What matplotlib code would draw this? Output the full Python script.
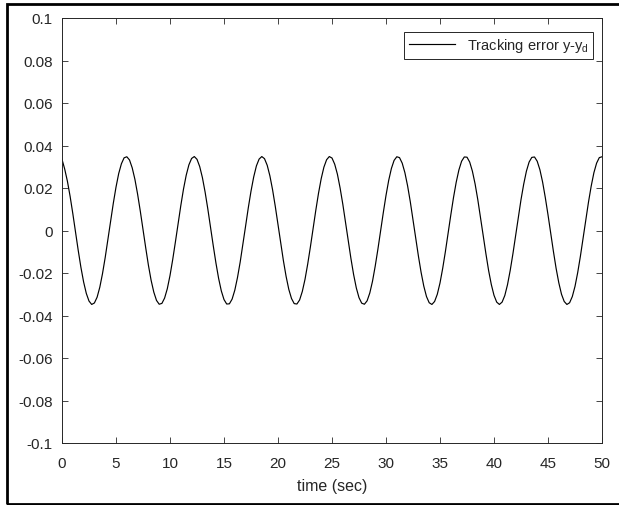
import numpy as np
import matplotlib
matplotlib.use('Agg')
import matplotlib.pyplot as plt
from matplotlib.patches import Rectangle

plt.rcParams['font.family'] = ['Liberation Sans', 'DejaVu Sans']
plt.rcParams['mathtext.fontset'] = 'custom'
plt.rcParams['mathtext.rm'] = 'Liberation Sans'
plt.rcParams['mathtext.it'] = 'Liberation Sans:italic'

t_step = 0.25
err = [
    0.0335, 0.0289, 0.0232, 0.0161, 0.0080, -0.0007, -0.0093, -0.0173, -0.0242, -0.0296,
    -0.0332, -0.0348, -0.0341, -0.0314, -0.0267, -0.0203, -0.0127, -0.0042, 0.0044, 0.0128,
    0.0204, 0.0268, 0.0314, 0.0342, 0.0347,
    0.0332, 0.0295, 0.0241, 0.0171, 0.0091, 0.0005, -0.0081, -0.0163, -0.0234, -0.0290,
    -0.0329, -0.0347, -0.0343, -0.0318, -0.0274, -0.0212, -0.0137, -0.0054, 0.0033, 0.0117,
    0.0195, 0.0260, 0.0309, 0.0339, 0.0348,
    0.0335, 0.0301, 0.0249, 0.0181, 0.0102, 0.0016, -0.0070, -0.0152, -0.0225, -0.0284,
    -0.0325, -0.0346, -0.0345, -0.0323, -0.0281, -0.0221, -0.0148, -0.0065, 0.0021, 0.0107,
    0.0185, 0.0252, 0.0304, 0.0336, 0.0348,
    0.0338, 0.0307, 0.0257, 0.0191, 0.0113, 0.0028, -0.0059, -0.0142, -0.0216, -0.0277,
    -0.0320, -0.0344, -0.0346, -0.0327, -0.0287, -0.0230, -0.0158, -0.0077, 0.0010, 0.0095,
    0.0175, 0.0244, 0.0298, 0.0333, 0.0348,
    0.0341, 0.0312, 0.0265, 0.0200, 0.0124, 0.0039, -0.0047, -0.0131, -0.0207, -0.0270,
    -0.0316, -0.0342, -0.0347, -0.0331, -0.0294, -0.0239, -0.0168, -0.0088, -0.0002, 0.0084,
    0.0165, 0.0236, 0.0292, 0.0330, 0.0347,
    0.0343, 0.0317, 0.0272, 0.0210, 0.0135, 0.0051, -0.0036, -0.0120, -0.0197, -0.0262,
    -0.0311, -0.0340, -0.0348, -0.0334, -0.0300, -0.0247, -0.0178, -0.0099, -0.0013, 0.0073,
    0.0155, 0.0227, 0.0285, 0.0326, 0.0346,
    0.0345, 0.0322, 0.0279, 0.0219, 0.0145, 0.0062, -0.0024, -0.0109, -0.0188, -0.0254,
    -0.0305, -0.0337, -0.0348, -0.0337, -0.0306, -0.0255, -0.0188, -0.0110, -0.0025, 0.0062,
    0.0145, 0.0218, 0.0279, 0.0322, 0.0344,
    0.0346, 0.0326, 0.0286, 0.0228, 0.0155, 0.0074, -0.0013, -0.0098, -0.0178, -0.0246,
    -0.0300, -0.0334, -0.0348, -0.0340, -0.0311, -0.0263, -0.0198, -0.0121, -0.0036, 0.0050,
    0.0134, 0.0209, 0.0272, 0.0317, 0.0343, 0.0347,
]
t = np.arange(len(err)) * t_step

x_ticks = [0, 5, 10, 15, 20, 25, 30, 35, 40, 45, 50]
y_ticks = [-0.1, -0.08, -0.06, -0.04, -0.02, 0, 0.02, 0.04, 0.06, 0.08, 0.1]
y_labels = ['-0.1', '-0.08', '-0.06', '-0.04', '-0.02', '0',
            '0.02', '0.04', '0.06', '0.08', '0.1']

axc = '#262626'

fig = plt.figure(figsize=(6.19, 5.06), dpi=100)
ax = fig.add_axes([62 / 619, 1 - 444 / 506, 540 / 619, 425 / 506])

ax.plot(t, err, color='black', lw=0.85, label=r'Tracking error y-y$_\mathrm{d}$')

ax.set_xlim(0, 50)
ax.set_ylim(-0.1, 0.1)
ax.set_xticks(x_ticks)
ax.set_yticks(y_ticks)
ax.set_yticklabels(y_labels)
ax.tick_params(direction='in', length=4.5, width=0.6, colors=axc,
               labelsize=11, top=True, right=True)
ax.tick_params(axis='x', pad=9)
ax.tick_params(axis='y', pad=6.5)
for s in ax.spines.values():
    s.set_color(axc)
    s.set_linewidth(0.7)
ax.set_xlabel('time (sec)', fontsize=11.5, color=axc, labelpad=6)

leg = ax.legend(loc='upper right', bbox_to_anchor=(1 - 9 / 540, 1 - 14 / 425),
                borderaxespad=0, fontsize=10.5, fancybox=False, framealpha=1,
                handlelength=3.2, handletextpad=0.8, borderpad=0.3)
leg.get_frame().set_edgecolor(axc)
leg.get_frame().set_linewidth(0.7)
for txt in leg.get_texts():
    txt.set_color(axc)

# black frame around the whole figure
fig.patches.append(Rectangle((7 / 619, 1.5 / 506), 1.0, 1 - 6 / 506,
                             transform=fig.transFigure, fill=False,
                             edgecolor='black', lw=2.0))

fig.savefig('out.png', dpi=100)
